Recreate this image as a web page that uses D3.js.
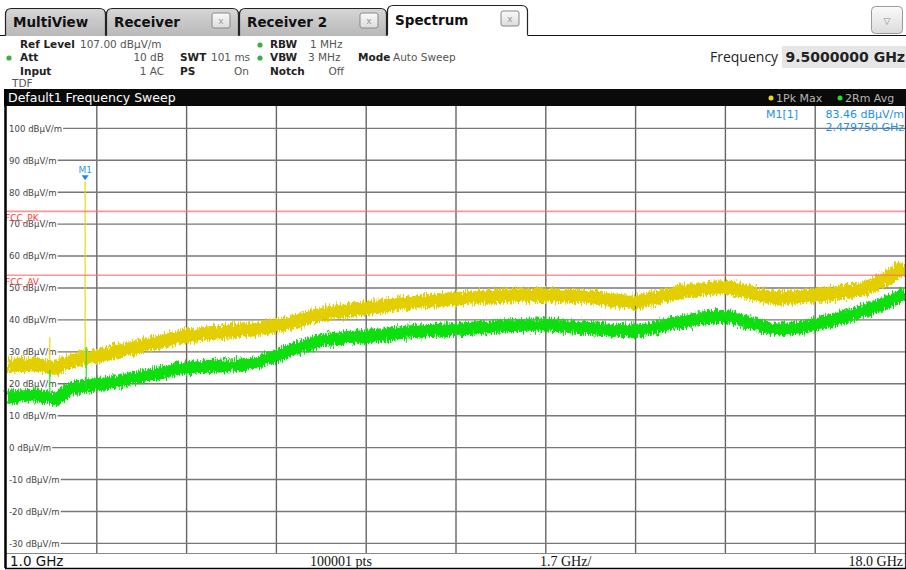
<!DOCTYPE html>
<html>
<head>
<meta charset="utf-8">
<script src="https://cdn.jsdelivr.net/npm/d3@7"></script>
<style>
  body { margin: 0; background: #fff; }
  svg { display: block; font-family: "DejaVu Sans", sans-serif; }
</style>
</head>
<body>
<svg width="906" height="570"></svg>
<script>
// trace data (GHz / dBµV/m)
var freqs   = [1.0, 1.6, 1.9, 2.2, 2.7, 3.7, 4.4, 5.6, 6.2, 7.0, 7.8, 8.7, 9.5, 10.3, 11.2, 11.9, 12.9, 13.7, 14.6, 15.4, 15.9, 16.3, 17.2, 17.7, 18.0];
var pkMax   = [25.5, 26, 25, 27, 28.7, 32.5, 35, 37, 38.5, 42, 43.7, 45.6, 46.6, 47.5, 47.8, 47.3, 45.8, 48.6, 50.2, 47.3, 47, 47.8, 49.7, 53.5, 57];
var rmAvg   = [15.8, 16.4, 15.3, 18.3, 19.7, 22.7, 25, 26.2, 29.5, 33.7, 34.8, 36.4, 37, 38, 38.4, 37.5, 36.7, 39.2, 41, 37.6, 37.3, 38.6, 42.7, 45.8, 48.5];

// narrow spikes sticking out of the traces
var pkSpikeFreqs  = [1.81, 2.47975];
var pkSpikeLevels = [34.6, 83.46];
var avSpikeFreqs  = [1.81, 2.50];
var avSpikeLevels = [24.4, 31.5];

var limitNames  = ["FCC_PK", "FCC_AV"];
var limitLevels = [74, 54];

var yTicks = [100, 90, 80, 70, 60, 50, 40, 30, 20, 10, 0, -10, -20, -30];
var xGrid  = [1.0, 2.7, 4.4, 6.1, 7.8, 9.5, 11.2, 12.9, 14.6, 16.3, 18.0];

var markerFreq = 2.47975;
var markerLevel = 83.46;

var svg = d3.select("svg");
var W = 906;

var x = d3.scaleLinear().domain([1, 18]).range([7, 905]);
var y = d3.scaleLinear().domain([-33, 107]).range([553, 106]);

// ---------- defs ----------
var defs = svg.append("defs");
var grad = defs.append("linearGradient").attr("id", "tabg").attr("x1", 0).attr("x2", 0).attr("y1", 0).attr("y2", 1);
grad.append("stop").attr("offset", "0%").attr("stop-color", "#d6d6d6");
grad.append("stop").attr("offset", "100%").attr("stop-color", "#b8b8b8");
var bgrad = defs.append("linearGradient").attr("id", "btng").attr("x1", 0).attr("x2", 0).attr("y1", 0).attr("y2", 1);
bgrad.append("stop").attr("offset", "0%").attr("stop-color", "#fafafa");
bgrad.append("stop").attr("offset", "100%").attr("stop-color", "#dcdcdc");

// ragged edge for the noisy sweep traces (pure rendering effect)
var fz = defs.append("filter").attr("id", "fuzz").attr("filterUnits", "userSpaceOnUse")
  .attr("x", 0).attr("y", 100).attr("width", 906).attr("height", 460);
fz.append("feTurbulence").attr("type", "fractalNoise").attr("baseFrequency", "0.9 0.15")
  .attr("numOctaves", 2).attr("seed", 3).attr("result", "n");
fz.append("feDisplacementMap").attr("in", "SourceGraphic").attr("in2", "n")
  .attr("scale", 11).attr("xChannelSelector", "B").attr("yChannelSelector", "G");

function tabPath(x0, x1, top, bot) {
  var r = 6;
  return "M" + x0 + "," + bot + " L" + x0 + "," + (top + r) + " Q" + x0 + "," + top + " " + (x0 + r) + "," + top +
    " L" + (x1 - r) + "," + top + " Q" + x1 + "," + top + " " + x1 + "," + (top + r) + " L" + x1 + "," + bot;
}

// ---------- tabs ----------
var tabs = [
  {name: "MultiView", x0: 5, x1: 106, active: false, close: false},
  {name: "Receiver", x0: 106, x1: 239, active: false, close: true},
  {name: "Receiver 2", x0: 239, x1: 387, active: false, close: true},
  {name: "Spectrum", x0: 387, x1: 528, active: true, close: true}
];

svg.append("line").attr("x1", 0).attr("x2", W).attr("y1", 35.5).attr("y2", 35.5).attr("stroke", "#111").attr("stroke-width", 1.2);

tabs.forEach(function(t) {
  var top = t.active ? 5 : 8;
  var g = svg.append("g");
  g.append("path").attr("d", tabPath(t.x0 + 0.5, t.x1 - 0.5, top + 0.5, 36) + " Z")
    .attr("fill", t.active ? "#fff" : "url(#tabg)").attr("stroke", "none");
  g.append("path").attr("d", tabPath(t.x0 + 0.5, t.x1 - 0.5, top + 0.5, t.active ? 36 : 35.5))
    .attr("fill", "none").attr("stroke", "#222").attr("stroke-width", 1.2);
  g.append("text").attr("x", t.x0 + 8).attr("y", t.active ? 25 : 27)
    .attr("font-size", 13.5).attr("font-weight", "bold").attr("fill", "#111").text(t.name);
  if (t.close) {
    var cx = t.x1 - 27, cy = t.active ? 11 : 13;
    g.append("rect").attr("x", cx).attr("y", cy).attr("width", 18).attr("height", 15).attr("rx", 2)
      .attr("fill", "url(#btng)").attr("stroke", "#888");
    g.append("text").attr("x", cx + 9).attr("y", cy + 11).attr("text-anchor", "middle")
      .attr("font-size", 9).attr("fill", "#999").text("x");
  } else {
    g.append("text").attr("x", t.x1 - 16).attr("y", 26).attr("font-size", 11).attr("fill", "#c8c8c8").text("\u229E");
  }
});
// white gap under active tab
svg.append("line").attr("x1", 387.6).attr("x2", 527.4).attr("y1", 35.5).attr("y2", 35.5).attr("stroke", "#fff").attr("stroke-width", 1.6);

// dropdown button
svg.append("rect").attr("x", 871.5).attr("y", 6.5).attr("width", 31).attr("height", 27).attr("rx", 4)
  .attr("fill", "url(#btng)").attr("stroke", "#999");
svg.append("text").attr("x", 887).attr("y", 24).attr("text-anchor", "middle").attr("font-size", 9).attr("fill", "#888").text("\u25BD");

// ---------- settings header ----------
var hdr = svg.append("g").attr("font-size", 10.5);
function lbl(tx, ty, s) { hdr.append("text").attr("x", tx).attr("y", ty).attr("font-weight", "bold").attr("fill", "#222").text(s); }
function val(tx, ty, s, anchor) { hdr.append("text").attr("x", tx).attr("y", ty).attr("text-anchor", anchor || "start").attr("fill", "#555").text(s); }
function dot(tx, ty) { hdr.append("circle").attr("cx", tx).attr("cy", ty).attr("r", 2.6).attr("fill", "#3cb043"); }

lbl(20, 48, "Ref Level"); val(80, 48, "107.00 dB\u00B5V/m");
dot(9, 58); lbl(20, 61, "Att"); val(164, 61, "10 dB", "end");
lbl(20, 75, "Input"); val(164, 75, "1 AC", "end");
val(12, 87, "TDF");
lbl(180, 61, "SWT"); val(211, 61, "101 ms");
lbl(180, 75, "PS"); val(249, 75, "On", "end");
dot(260, 45); lbl(270, 48, "RBW"); val(310, 48, "1 MHz");
dot(260, 58); lbl(270, 61, "VBW"); val(308, 61, "3 MHz");
lbl(270, 75, "Notch"); val(344, 75, "Off", "end");
lbl(358, 61, "Mode"); val(393, 61, "Auto Sweep");

svg.append("text").attr("x", 710).attr("y", 62).attr("font-size", 14).attr("fill", "#222")
  .attr("font-family", "'Open Sans', 'DejaVu Sans', sans-serif").text("Frequency");
svg.append("rect").attr("x", 782).attr("y", 46).attr("width", 124).attr("height", 22).attr("fill", "#e6e6e6");
svg.append("text").attr("x", 905).attr("y", 62).attr("text-anchor", "end").attr("font-size", 14)
  .attr("font-weight", "bold").attr("fill", "#222").text("9.5000000 GHz");

// ---------- title bar ----------
svg.append("rect").attr("x", 4).attr("y", 89).attr("width", W - 4).attr("height", 17).attr("fill", "#0a0a0a");
svg.append("text").attr("x", 8).attr("y", 102).attr("font-size", 12.5).attr("fill", "#fff").text("Default1 Frequency Sweep");
var legend = svg.append("g").attr("font-size", 11).attr("fill", "#b4b4b4");
legend.append("circle").attr("cx", 771).attr("cy", 98).attr("r", 2.5).attr("fill", "#f0d800");
legend.append("text").attr("x", 776).attr("y", 102).text("1Pk Max");
legend.append("circle").attr("cx", 840).attr("cy", 98).attr("r", 2.5).attr("fill", "#22e022");
legend.append("text").attr("x", 845).attr("y", 102).text("2Rm Avg");

// ---------- plot area ----------
var plot = svg.append("g");

// vertical grid
plot.selectAll(".vg").data(xGrid.slice(1, -1)).enter().append("line")
  .attr("x1", d => x(d)).attr("x2", d => x(d)).attr("y1", 106).attr("y2", 553)
  .attr("stroke", "#666").attr("stroke-width", 1.4);

// y labels + horizontal grid starting after the label
var yl = plot.selectAll(".yl").data(yTicks).enter().append("g");
yl.append("text").attr("x", 9).attr("y", d => y(d) + 3.3)
  .attr("font-size", 8.6).attr("fill", "#444").text(d => d + " dB\u00B5V/m");
yl.each(function(d) {
  var w = this.querySelector("text").getComputedTextLength();
  d3.select(this).append("line").attr("x1", 9 + w + 1).attr("x2", 905).attr("y1", y(d)).attr("y2", y(d))
    .attr("stroke", "#777").attr("stroke-width", 1.4);
});

// traces
var line = d3.line().x((d, i) => x(freqs[i])).y(d => y(d)).curve(d3.curveCatmullRom.alpha(0.5));

var traces = plot.append("g").attr("filter", "url(#fuzz)");
traces.append("path").attr("d", line(pkMax)).attr("fill", "none")
  .attr("stroke", "#e3cf00").attr("stroke-width", 14).attr("stroke-linejoin", "round");
traces.append("path").attr("d", line(rmAvg)).attr("fill", "none")
  .attr("stroke", "#0ade0a").attr("stroke-width", 13).attr("stroke-linejoin", "round");

// spikes: from trace level up to spike level
function traceAt(arr, f) {
  var i = d3.bisectLeft(freqs, f);
  return arr[Math.max(0, i - 1)];
}
plot.selectAll(".pks").data(pkSpikeFreqs).enter().append("line")
  .attr("x1", d => x(d)).attr("x2", d => x(d))
  .attr("y1", d => y(traceAt(pkMax, d))).attr("y2", (d, i) => y(pkSpikeLevels[i]))
  .attr("stroke", "#efd800").attr("stroke-width", 1.2);
plot.selectAll(".avs").data(avSpikeFreqs).enter().append("line")
  .attr("x1", d => x(d)).attr("x2", d => x(d))
  .attr("y1", d => y(traceAt(rmAvg, d))).attr("y2", (d, i) => y(avSpikeLevels[i]))
  .attr("stroke", "#22e022").attr("stroke-width", 1.2);

// limit lines
var lim = plot.selectAll(".lim").data(limitLevels).enter().append("g");
lim.append("line").attr("x1", 7).attr("x2", 905).attr("y1", d => y(d)).attr("y2", d => y(d))
  .attr("stroke", "#ff7070").attr("stroke-opacity", 0.75).attr("stroke-width", 1.6);
lim.append("text").attr("x", 5).attr("y", d => y(d) + 9.5)
  .attr("font-size", 9).attr("fill", "#ff3b3b").text((d, i) => limitNames[i]);

// marker
var mx = x(markerFreq), my = y(markerLevel);
plot.append("path").attr("d", "M" + (mx - 3.5) + "," + (my - 6) + " L" + (mx + 3.5) + "," + (my - 6) + " L" + mx + "," + (my - 1) + " Z")
  .attr("fill", "#1e88e5");
plot.append("text").attr("x", mx).attr("y", my - 8).attr("text-anchor", "middle")
  .attr("font-size", 9).attr("fill", "#2a9cf0").text("M1");

var mk = svg.append("g").attr("font-size", 11).attr("fill", "#1e90e8");
mk.append("text").attr("x", 766).attr("y", 118).text("M1[1]");
mk.append("text").attr("x", 904).attr("y", 118).attr("text-anchor", "end").text(markerLevel.toFixed(2) + " dB\u00B5V/m");
mk.append("text").attr("x", 904).attr("y", 131).attr("text-anchor", "end").text(markerFreq.toFixed(6) + " GHz");

// ---------- frame and bottom bar ----------
svg.append("rect").attr("x", 5).attr("y", 553).attr("width", 900).attr("height", 15).attr("fill", "#fff");
svg.append("line").attr("x1", 5).attr("x2", 905).attr("y1", 553.5).attr("y2", 553.5).attr("stroke", "#888").attr("stroke-width", 1.2);
svg.append("line").attr("x1", 5.5).attr("x2", 5.5).attr("y1", 89).attr("y2", 568).attr("stroke", "#000").attr("stroke-width", 2.5);
svg.append("line").attr("x1", 905.5).attr("x2", 905.5).attr("y1", 106).attr("y2", 568).attr("stroke", "#333").attr("stroke-width", 1.2);
svg.append("line").attr("x1", 5).attr("x2", 906).attr("y1", 568.5).attr("y2", 568.5).attr("stroke", "#000").attr("stroke-width", 1.4);

var bot = svg.append("g").attr("font-size", 14).attr("fill", "#111");
bot.append("text").attr("x", 10).attr("y", 566).attr("font-size", 13.5).text(xGrid[0].toFixed(1) + " GHz");
bot.append("text").attr("x", 310).attr("y", 566).attr("font-family", "'Liberation Serif', serif").text("100001 pts");
bot.append("text").attr("x", 540).attr("y", 566).attr("font-family", "'Liberation Serif', serif").text("1.7 GHz/");
bot.append("text").attr("x", 903).attr("y", 566).attr("text-anchor", "end")
  .attr("font-family", "'Liberation Serif', serif").text(xGrid[xGrid.length - 1].toFixed(1) + " GHz");
</script>
</body>
</html>
